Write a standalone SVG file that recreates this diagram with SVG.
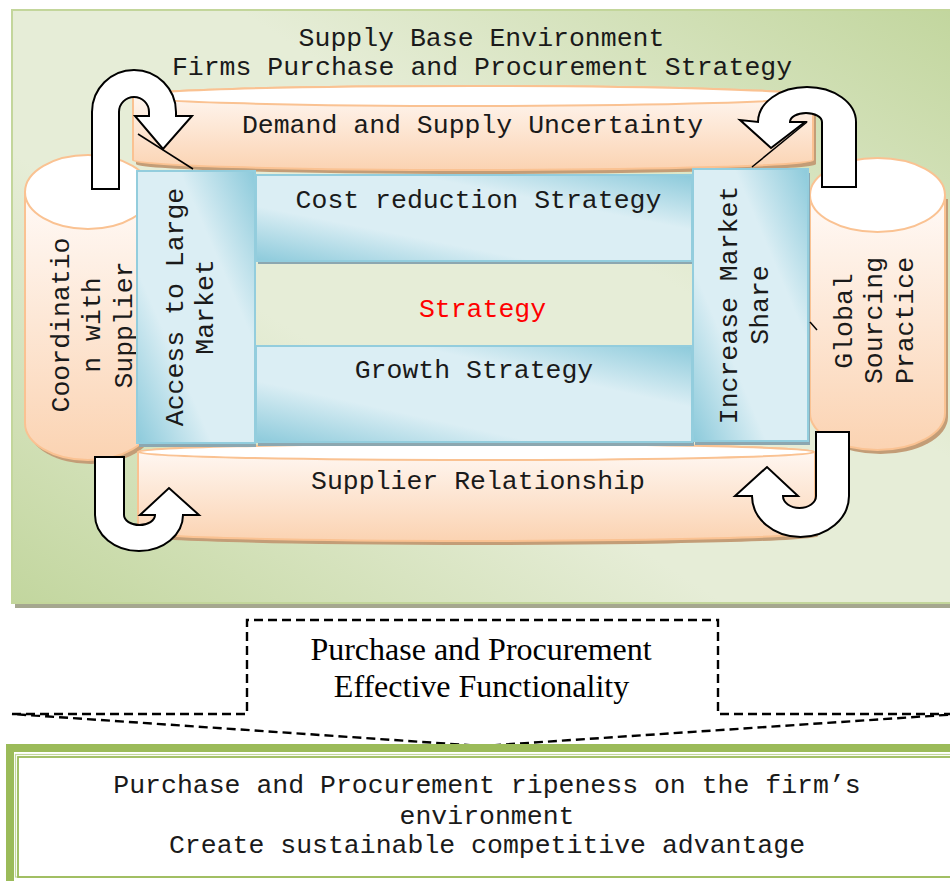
<svg xmlns="http://www.w3.org/2000/svg" width="950" height="881" viewBox="0 0 950 881">
  <defs>
    <!-- environment panel: darker green at top-right and bottom-left corners -->
    <linearGradient id="envFill" x1="1" y1="0" x2="0" y2="1">
      <stop offset="0" stop-color="#c2d69e"/>
      <stop offset="0.38" stop-color="#e6edd7"/>
      <stop offset="0.62" stop-color="#e6edd7"/>
      <stop offset="1" stop-color="#c2d69e"/>
    </linearGradient>
    <linearGradient id="peachV" x1="0" y1="0" x2="0" y2="1">
      <stop offset="0" stop-color="#fffaf7"/>
      <stop offset="1" stop-color="#fbd3b2"/>
    </linearGradient>
    <linearGradient id="blueDiag" x1="1" y1="0" x2="0" y2="1">
      <stop offset="0" stop-color="#8ccadb"/>
      <stop offset="0.32" stop-color="#dbeef4"/>
      <stop offset="0.68" stop-color="#dbeef4"/>
      <stop offset="1" stop-color="#8ccadb"/>
    </linearGradient>
  </defs>
  <style>
    .mono{font-family:"Liberation Mono","Courier New",monospace;font-size:26.5px;fill:#1a1a1a;text-anchor:middle}
    .serif{font-family:"Liberation Serif","Times New Roman",serif;font-size:32px;fill:#000;text-anchor:middle}
    .cyl{fill:url(#peachV);stroke:#fac292;stroke-width:2}
    .cap{fill:#fff;stroke:#fac292;stroke-width:2}
    .shadowP{fill:#c39d77}
    .blue{fill:url(#blueDiag);stroke:#93cddd;stroke-width:2}
    .shadowB{fill:#8ca7b0}
    .uturn{fill:#fff;stroke:#000;stroke-width:2;stroke-linejoin:miter}
    .rule{stroke:#000;stroke-width:1.5;fill:none}
    .dash{fill:none;stroke:#000;stroke-width:2.4;stroke-dasharray:9 5}
  </style>

  <!-- environment panel -->
  <g id="environment">
    <rect x="15" y="14" width="940" height="594" fill="#a5a78f"/>
    <rect x="12" y="10" width="940" height="593" fill="url(#envFill)" stroke="#c3d69b" stroke-width="2"/>
    <text class="mono" x="481.5" y="46">Supply Base Environment</text>
    <text class="mono" x="482" y="75">Firms Purchase and Procurement Strategy</text>
  </g>

  <!-- cylinders around the strategy core -->
  <g id="demand-supply">
    <path class="shadowP" d="M136,99 A340,10 0 0 1 816,99 L816,164 A340,10 0 0 1 136,164 Z"/>
    <path class="cyl" d="M133,96 A340,10 0 0 1 813,96 L813,160 A340,10 0 0 1 133,160 Z"/>
    <ellipse class="cap" cx="473" cy="96" rx="340" ry="10"/>
    <text class="mono" x="472.5" y="133">Demand and Supply Uncertainty</text>
  </g>

  <g id="coordination">
    <path class="shadowP" d="M28,196 L28,427 A63,37 0 0 0 154,427 L154,196 Z"/>
    <path class="cyl" d="M25,192 L25,423 A63,37 0 0 0 151,423 L151,192 Z"/>
    <ellipse class="cap" cx="88" cy="192" rx="63" ry="37"/>
    <text class="mono" transform="translate(69,325) rotate(-90)">Coordinatio</text>
    <text class="mono" transform="translate(100,325) rotate(-90)">n with</text>
    <text class="mono" transform="translate(132,325) rotate(-90)">Supplier</text>
  </g>

  <g id="global-sourcing">
    <path class="shadowP" d="M813,199 L813,417 A67.5,37 0 0 0 948,417 L948,199 Z"/>
    <path class="cyl" d="M810,195 L810,413 A67.5,37 0 0 0 945,413 L945,195 Z"/>
    <ellipse class="cap" cx="877.5" cy="195" rx="67.5" ry="37"/>
    <text class="mono" transform="translate(852,321) rotate(-90)">Global</text>
    <text class="mono" transform="translate(882,320.5) rotate(-90)">Sourcing</text>
    <text class="mono" transform="translate(913,320.5) rotate(-90)">Practice</text>
  </g>

  <g id="supplier-relationship">
    <path class="shadowP" d="M141,456 A338.5,8 0 0 1 818,456 L818,536 A338.5,9 0 0 1 141,536 Z"/>
    <path class="cyl" d="M138,452 A338.5,8 0 0 1 815,452 L815,532 A338.5,9 0 0 1 138,532 Z"/>
    <ellipse class="cap" cx="476.5" cy="452" rx="338.5" ry="8"/>
    <text class="mono" x="478" y="489">Supplier Relationship</text>
  </g>

  <!-- strategy core -->
  <g id="cost-reduction">
    <rect class="shadowB" x="258" y="178" width="436" height="86"/>
    <rect class="blue" x="256" y="175" width="436" height="86"/>
    <text class="mono" x="478.5" y="208">Cost reduction Strategy</text>
  </g>

  <g id="strategy">
    <text class="mono" x="482.5" y="317" style="fill:#ff0000">Strategy</text>
  </g>

  <g id="growth">
    <rect class="shadowB" x="258" y="350" width="436" height="96"/>
    <rect class="blue" x="256" y="346" width="436" height="96"/>
    <text class="mono" x="474" y="378">Growth Strategy</text>
  </g>

  <g id="access-market">
    <rect class="shadowB" x="139" y="175" width="117" height="272"/>
    <rect class="blue" x="137" y="171" width="118" height="272"/>
    <text class="mono" transform="translate(183,307) rotate(-90)">Access to Large</text>
    <text class="mono" transform="translate(213,307) rotate(-90)">Market</text>
  </g>

  <g id="market-share">
    <rect class="shadowB" x="695" y="173" width="115" height="272"/>
    <rect class="blue" x="693" y="169" width="115" height="272"/>
    <text class="mono" transform="translate(737,305) rotate(-90)">Increase Market</text>
    <text class="mono" transform="translate(768,305) rotate(-90)">Share</text>
  </g>

  <!-- connectors: U-turn arrows and rule lines -->
  <g id="connectors">
    <path class="uturn" d="M92,189 L92,112 A42,42 0 0 1 176,112 L176,116 L192,116 L163,149 L135,116 L149,116 L149,112 A15,15 0 0 0 119,112 L119,189 Z"/>
    <path class="uturn" d="M856,187 L856,122 A49,35 0 0 0 758,122 L740,120 L771,148 L805,122 L790,122 A16,9 0 0 1 822,122 L822,187 Z"/>
    <path class="uturn" d="M95,457 L124,457 L124,515 A15.5,10 0 0 0 155,515 L140,515 L169,488 L199,515 L183,515 A44,36 0 0 1 95,515 Z"/>
    <path class="uturn" d="M849,432 L849,496 A48.5,41 0 0 1 752,496 L735,496 L767,467 L798,496 L783,496 A16.5,12 0 0 0 816,496 L816,432 Z"/>
    <path class="rule" d="M138,134 L193,169"/>
    <path class="rule" d="M752,167 L807,122"/>
    <path class="rule" d="M810,322 L817,330"/>
    <path class="dash" d="M12,714 L247,714 L247,620 L718,620 L718,714 L960,714 L482,746 Z"/>
  </g>

  <g id="functionality">
    <text class="serif" x="481" y="660">Purchase and Procurement</text>
    <text class="serif" x="481.5" y="697">Effective Functionality</text>
  </g>

  <g id="ripeness">
    <rect x="10" y="748" width="960" height="200" fill="#fff" stroke="#9bbb59" stroke-width="8"/>
    <rect x="15.5" y="754.5" width="960" height="122.5" fill="none" stroke="#c2d69b" stroke-width="1.2"/>
    <rect x="18" y="757" width="960" height="120" fill="none" stroke="#9bbb59" stroke-width="1.8"/>
    <text class="mono" x="487" y="793">Purchase and Procurement ripeness on the firm’s</text>
    <text class="mono" x="487" y="824">environment</text>
    <text class="mono" x="487" y="853">Create sustainable competitive advantage</text>
  </g>
</svg>
